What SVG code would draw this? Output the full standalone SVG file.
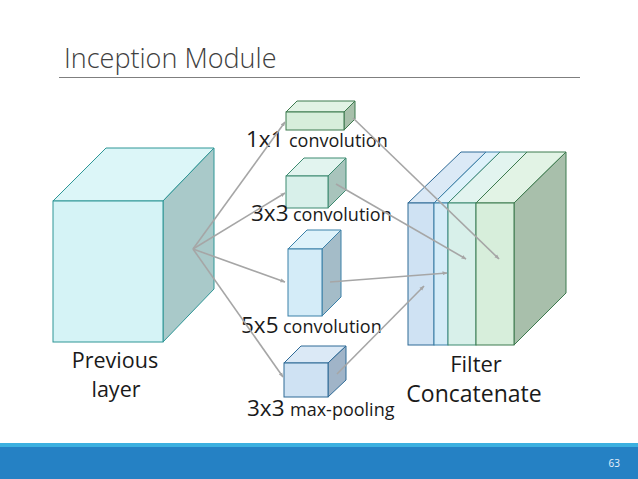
<svg xmlns="http://www.w3.org/2000/svg" width="638" height="479" viewBox="0 0 638 479">
<defs>
<marker id="ah" viewBox="0 0 10 10" refX="9" refY="5" markerWidth="5" markerHeight="5" orient="auto" markerUnits="userSpaceOnUse">
<path d="M0,1 L10,5 L0,9 Z" fill="#a6a6a6"/>
</marker>
<style>
text{font-family:"Open Sans","Liberation Sans",sans-serif;fill:#1a1a1a}
.lbl{font-size:22.5px}
.big{font-size:21.5px}
.sub{font-size:18px}
.cn{stroke:#a6a6a6;stroke-width:1.6;fill:none;marker-end:url(#ah)}
.teal{stroke:#2e9696;stroke-width:1}
.grn{stroke:#3d7a4e;stroke-width:1}
.mint{stroke:#3d8a70;stroke-width:1}
.blu{stroke:#3a80a8;stroke-width:1}
.dblu{stroke:#2e6a96;stroke-width:1}
</style>
</defs>
<rect width="638" height="479" fill="#ffffff"/>
<text x="64" y="68" style="font-size:27px;fill:#404040;font-weight:300">Inception Module</text>
<line x1="59" y1="77.5" x2="580" y2="77.5" stroke="#7f7f7f" stroke-width="1.2"/>

<g id="prev">
<polygon class="teal" points="53,201 106,148 214,148 163,201" fill="#dcf6f8"/>
<polygon class="teal" points="163,201 214,148 214,289 163,342" fill="#a9c9c9"/>
<rect class="teal" x="53" y="201" width="110" height="141" fill="#d5f3f6"/>
<text class="big" x="115" y="368" text-anchor="middle">Previous</text>
<text class="big" x="116" y="397" text-anchor="middle">layer</text>
</g>

<g id="conv1">
<polygon class="grn" points="286,112 297,101 355,101 344,112" fill="#e2f3e5"/>
<polygon class="grn" points="344,112 355,101 355,119 344,130" fill="#a8c0ab"/>
<rect class="grn" x="286" y="112" width="58" height="18" fill="#d7eedb"/>
<text y="147"><tspan class="lbl" x="246">1x1</tspan><tspan class="sub" x="289">convolution</tspan></text>
</g>

<g id="conv3">
<polygon class="mint" points="286,176 304,158 346,158 328,176" fill="#e2f4ef"/>
<polygon class="mint" points="328,176 346,158 346,190 328,208" fill="#a8c4bc"/>
<rect class="mint" x="286" y="176" width="42" height="32" fill="#d8f0ea"/>
<text y="221"><tspan class="lbl" x="251">3x3</tspan><tspan class="sub" x="293">convolution</tspan></text>
</g>

<g id="conv5">
<polygon class="blu" points="288,249 307,230 341,230 322,249" fill="#def2fa"/>
<polygon class="blu" points="322,249 341,230 341,297 322,316" fill="#a4bcc8"/>
<rect class="blu" x="288" y="249" width="34" height="67" fill="#d4ecf8"/>
<text y="333"><tspan class="lbl" x="241">5x5</tspan><tspan class="sub" x="283">convolution</tspan></text>
</g>

<g id="pool">
<polygon class="dblu" points="284,363 301,346 346,346 328,363" fill="#dbe9f6"/>
<polygon class="dblu" points="328,363 346,346 346,380 328,397" fill="#a0b4c8"/>
<rect class="dblu" x="284" y="363" width="44" height="34" fill="#cfe2f3"/>
<text y="416"><tspan class="lbl" x="247">3x3</tspan><tspan class="sub" x="290">max-pooling</tspan></text>
</g>

<g id="concat">
<polygon class="dblu" points="408,203 461,152 486,152 434,203" fill="#dbe9f6"/>
<polygon class="blu" points="434,203 486,152 500,152 448,203" fill="#def2fa"/>
<polygon class="mint" points="448,203 500,152 527,152 476,203" fill="#e2f4ef"/>
<polygon class="grn" points="476,203 527,152 566,152 514,203" fill="#e2f3e5"/>
<polygon class="grn" points="514,203 566,152 566,293 514,345" fill="#a8bfab"/>
<rect class="dblu" x="408" y="203" width="26" height="142" fill="#cfe2f3"/>
<rect class="blu" x="434" y="203" width="14" height="142" fill="#d4ecf8"/>
<rect class="mint" x="448" y="203" width="28" height="142" fill="#d8f0ea"/>
<rect class="grn" x="476" y="203" width="38" height="142" fill="#d7eedb"/>
<text class="big" x="476" y="372" text-anchor="middle" style="font-size:22px">Filter</text>
<text class="big" x="474" y="402" text-anchor="middle" style="font-size:23px">Concatenate</text>
</g>

<g id="connectors">
<line class="cn" x1="193" y1="249" x2="285" y2="122"/>
<line class="cn" x1="193" y1="249" x2="285" y2="193"/>
<line class="cn" x1="193" y1="249" x2="285" y2="282"/>
<line class="cn" x1="193" y1="249" x2="283" y2="377"/>
<line class="cn" x1="353" y1="118" x2="499" y2="259"/>
<line class="cn" x1="336" y1="184" x2="466" y2="259"/>
<line class="cn" x1="330" y1="282" x2="447" y2="273"/>
<line class="cn" x1="337" y1="374" x2="424" y2="286"/>
</g>

<g id="footer">
<rect x="0" y="443" width="638" height="36" fill="#2581c4"/>
<rect x="0" y="443" width="638" height="4" fill="#3cb0e0"/>
<text x="620" y="467" text-anchor="end" style="font-size:10px;fill:#e8f2fa">63</text>
</g>
</svg>
